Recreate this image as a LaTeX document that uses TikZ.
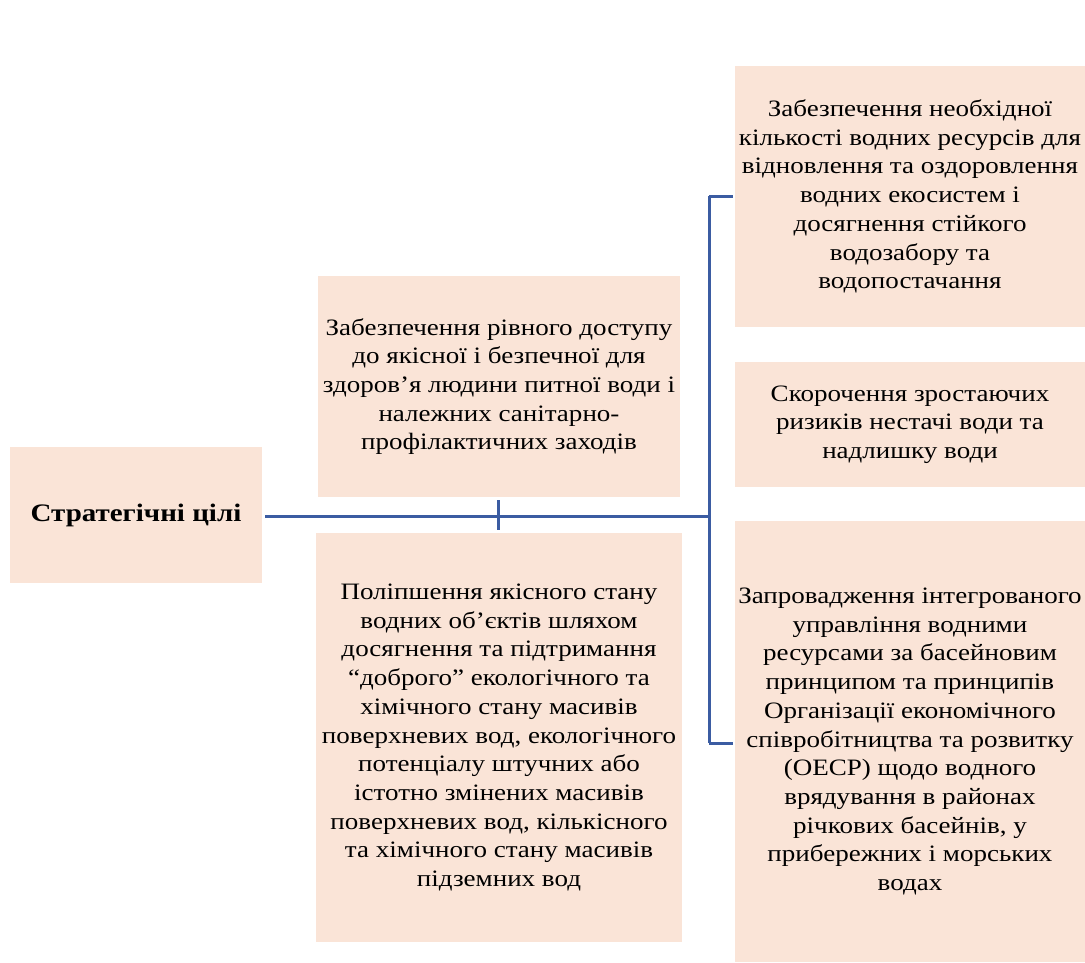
\documentclass[tikz,border=0pt]{standalone}
\usepackage{fontspec}
\setmainfont{Liberation Serif}[FakeStretch=1.15]
\usepackage{tikz}

\definecolor{tilo}{HTML}{FAE4D7}
\definecolor{liniia}{HTML}{3B5CA2}

\tikzset{
    blok/.style={fill=tilo, draw=none, align=center, inner sep=0pt,
        font=\fontsize{23.5}{28.7}\selectfont},
    zviazok/.style={liniia, line width=3pt}
}

\begin{document}
\begin{tikzpicture}[x=1pt, y=-1pt]
                \useasboundingbox (0, 0) rectangle (1085, 962);

                % bloky
                \node[blok, minimum width=252, minimum height=136, font=\fontsize{25.2}{28.7}\selectfont\bfseries] (cili) at (136, 515) {Стратегічні цілі};
                \node[blok, minimum width=362, minimum height=221] (dostup) at (499, 386.5) {Забезпечення рівного доступу\\до якісної і безпечної для\\здоров’я людини питної води і\\належних санітарно-\\профілактичних заходів};
                \node[blok, minimum width=366, minimum height=409] (yakist) at (499, 737.5) {Поліпшення якісного стану\\водних об’єктів шляхом\\досягнення та підтримання\\“доброго” екологічного та\\хімічного стану масивів\\поверхневих вод, екологічного\\потенціалу штучних або\\істотно змінених масивів\\поверхневих вод, кількісного\\та хімічного стану масивів\\підземних вод};
                \node[blok, minimum width=350, minimum height=261] (resursy) at (910, 196.5) {Забезпечення необхідної\\кількості водних ресурсів для\\відновлення та оздоровлення\\водних екосистем і\\досягнення стійкого\\водозабору та\\водопостачання};
                \node[blok, minimum width=350, minimum height=125] (ryzyky) at (910, 424.5) {Скорочення зростаючих\\ризиків нестачі води та\\надлишку води};
                \node[blok, minimum width=350, minimum height=441] (upravlinnia) at (910, 741.5) {Запровадження інтегрованого\\управління водними\\ресурсами за басейновим\\принципом та принципів\\Організації економічного\\співробітництва та розвитку\\(ОЕСР) щодо водного\\врядування в районах\\річкових басейнів, у\\прибережних і морських\\водах};

                % zviazky
                \coordinate (vuzol) at (709, 516);
                \coordinate (verkh) at (709, 196);
                \coordinate (nyz) at (709, 743);
                \draw[zviazok] (cili.east |- vuzol) ++(3, 0) -- (vuzol);
                \draw[zviazok] (498, 500) -- (498, 530);
                \draw[zviazok] (verkh) -- (nyz);
                \draw[zviazok] (verkh) -- ([xshift=-2pt]resursy.west |- verkh);
                \draw[zviazok] (nyz) -- ([xshift=-2pt]upravlinnia.west |- nyz);
            \end{tikzpicture}
\end{document}
